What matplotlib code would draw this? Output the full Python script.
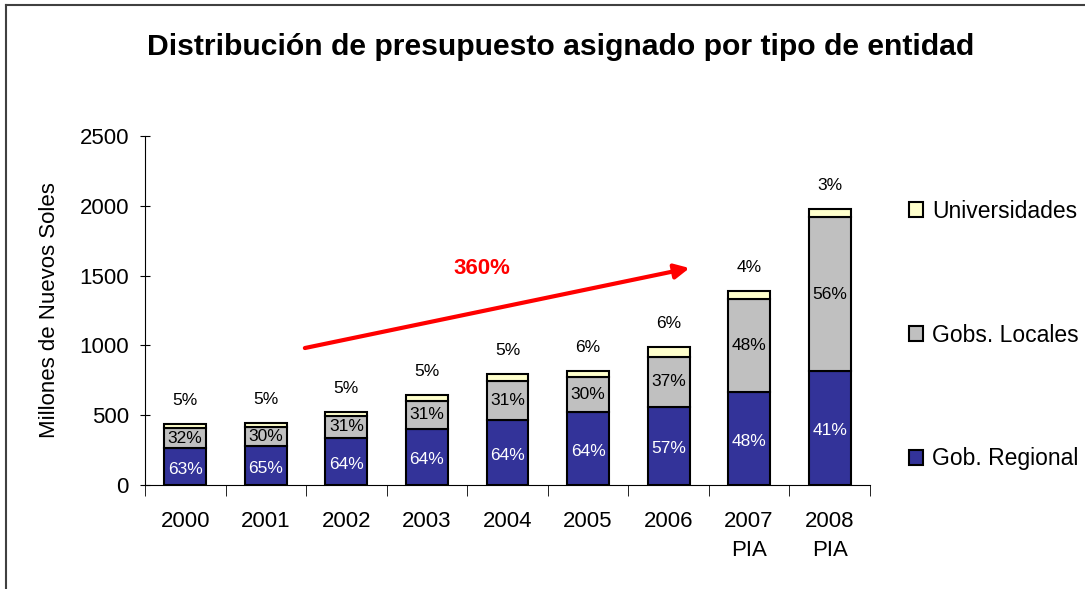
import numpy as np
import matplotlib.pyplot as plt
from matplotlib.lines import Line2D

plt.rcParams['font.family'] = ['Liberation Sans', 'DejaVu Sans']

years = ['2000', '2001', '2002', '2003', '2004', '2005', '2006', '2007\nPIA', '2008\nPIA']
gob_regional = [263, 282, 335, 401, 466, 521, 561, 668, 817]
gobs_locales = [143, 136, 162, 203, 281, 255, 358, 664, 1101]
universidades = [30, 28, 26, 41, 46, 38, 72, 58, 57]

pct_regional = ['63%', '65%', '64%', '64%', '64%', '64%', '57%', '48%', '41%']
pct_locales = ['32%', '30%', '31%', '31%', '31%', '30%', '37%', '48%', '56%']
pct_univ = ['5%', '5%', '5%', '5%', '5%', '6%', '6%', '4%', '3%']

c_reg = '#333399'
c_loc = '#C0C0C0'
c_uni = '#FFFFCC'

fig = plt.figure(figsize=(10.85, 5.89), dpi=100)
ax = fig.add_axes([0.1336, 0.1766, 0.6682, 0.5925])

ind = np.arange(len(years))
width = 0.52
reg = np.array(gob_regional)
loc = np.array(gobs_locales)
uni = np.array(universidades)

b1 = ax.bar(ind, reg, width, color=c_reg, edgecolor='black', linewidth=1.5, label='Gob. Regional')
b2 = ax.bar(ind, loc, width, bottom=reg, color=c_loc, edgecolor='black', linewidth=1.5, label='Gobs. Locales')
b3 = ax.bar(ind, uni, width, bottom=reg + loc, color=c_uni, edgecolor='black', linewidth=1.5, label='Universidades')

for i in ind:
    ax.text(i, reg[i] / 2 - 20, pct_regional[i], ha='center', va='center', color='white', fontsize=12.5)
    ax.text(i, reg[i] + loc[i] / 2, pct_locales[i], ha='center', va='center', color='black', fontsize=12.5)
    ax.annotate(pct_univ[i], (i, reg[i] + loc[i] + uni[i]), xytext=(0, 17), textcoords='offset points',
                ha='center', va='center', fontsize=12.5)

# growth arrow
ax.annotate('', xy=(6.26, 1554), xytext=(1.485, 981),
            arrowprops=dict(arrowstyle='-|>', color='red', lw=3, mutation_scale=22, shrinkA=0, shrinkB=0))
ax.text(3.68, 1554, '360%', color='red', fontsize=16, fontweight='bold', ha='center', va='center')

ax.set_xlim(-0.5, len(years) - 0.5)
ax.set_ylim(0, 2500)
ax.set_yticks(np.arange(0, 2501, 500))
ax.set_xticks(ind)
ax.set_xticklabels(years, fontsize=16, linespacing=1.45)
ax.set_xticks(np.arange(-0.5, len(years), 1), minor=True)
ax.tick_params(axis='x', which='major', length=0, pad=19)
ax.tick_params(axis='x', which='minor', length=8, direction='out')
ax.tick_params(axis='y', labelsize=16, length=7, direction='inout', pad=8)
ax.spines['top'].set_visible(False)
ax.spines['right'].set_visible(False)
ax.set_ylabel('Millones de Nuevos Soles', fontsize=16, labelpad=14)

fig.text(0.517, 0.92, 'Distribución de presupuesto asignado por tipo de entidad',
         ha='center', va='center', fontsize=21.7, fontweight='bold')

ax.legend(handles=[b3, b2, b1], loc='center left', bbox_to_anchor=(0.819, 0.431),
          bbox_transform=fig.transFigure, frameon=False, fontsize=16.5,
          handlelength=0.6, handleheight=0.6, handletextpad=0.4, labelspacing=4.4)

# partial frame around the chart
fig.add_artist(Line2D([6 / 1085, 6 / 1085], [0, 1 - 5 / 589], color='#404040', lw=1.5))
fig.add_artist(Line2D([6 / 1085, 1], [1 - 5 / 589, 1 - 5 / 589], color='#404040', lw=1.5))

fig.savefig('out.png', dpi=100)
